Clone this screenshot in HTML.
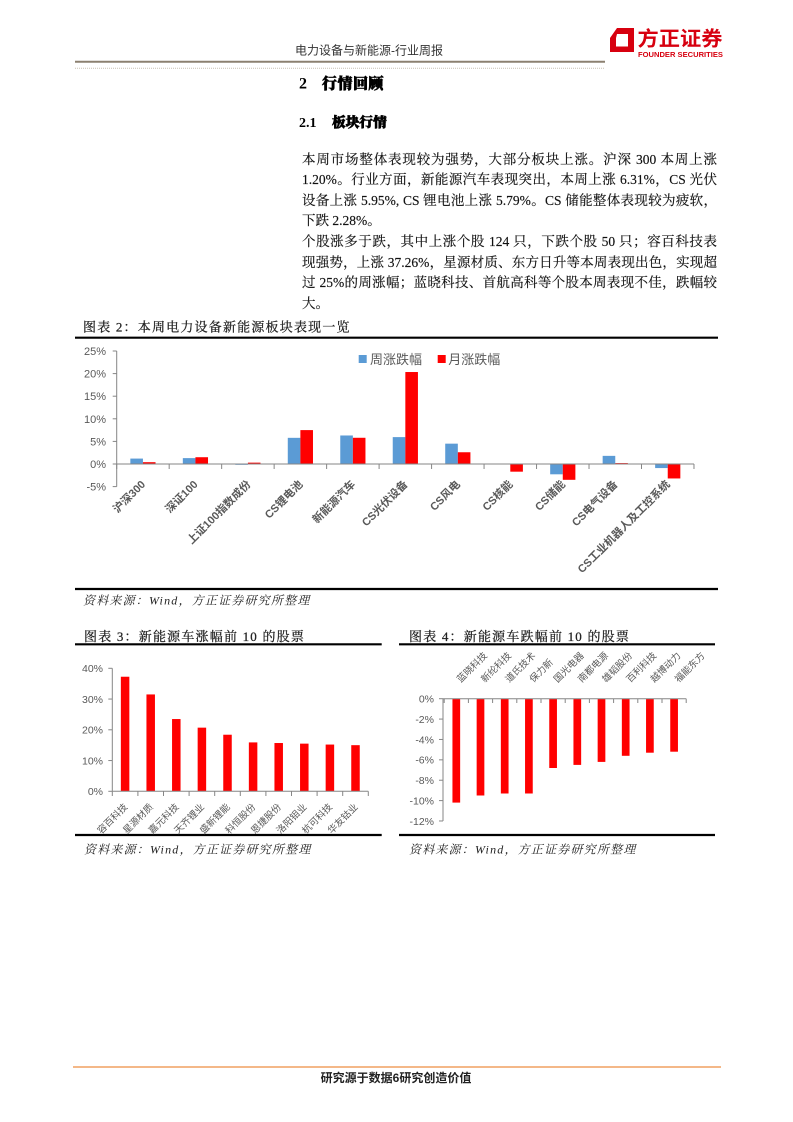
<!DOCTYPE html>
<html><head><meta charset="utf-8">
<style>
html,body{margin:0;padding:0;background:#fff;}
body{width:793px;height:1122px;position:relative;overflow:hidden;}
svg{position:absolute;left:0;top:0;}
.para{position:absolute;left:302px;top:149.7px;width:415px;font-family:"Liberation Serif","Noto Serif CJK SC",serif;font-size:13.5px;line-height:20.6px;color:#111;-webkit-text-stroke:0.15px #111;}
.para div{height:20.6px;}
.j{text-align:justify;text-align-last:justify;}
</style></head>
<body>
<svg width="793" height="1122" viewBox="0 0 793 1122" xmlns="http://www.w3.org/2000/svg">
<!-- Header -->
<text x="295" y="54.5" font-family="Liberation Sans,Noto Sans CJK SC,sans-serif" font-size="12" fill="#333">电力设备与新能源-行业周报</text>
<line x1="75" y1="61.7" x2="605" y2="61.7" stroke="#8c8070" stroke-width="2"/>
<line x1="75" y1="68.3" x2="605" y2="68.3" stroke="#c9c0b2" stroke-width="1" stroke-dasharray="1,1"/>
<!-- logo -->
<path fill-rule="evenodd" fill="#d7000f" d="M617,28 L634,28 L634,52 L610,52 L610,38 Z M617,34 L628,34 L628,46.5 L616,46.5 L616,38 Z"/>
<text x="637.5" y="45.5" font-family="Liberation Sans,Noto Sans CJK SC,sans-serif" font-size="20" font-weight="bold" fill="#d7000f" textLength="85" lengthAdjust="spacingAndGlyphs">方正证券</text>
<text x="638" y="57" font-family="Liberation Sans,sans-serif" font-size="7.5" font-weight="bold" fill="#d7000f" textLength="85" lengthAdjust="spacingAndGlyphs">FOUNDER SECURITIES</text>
<!-- Headings -->
<text x="299" y="88.5" font-family="Liberation Serif,Noto Serif CJK SC,serif" font-size="16" font-weight="bold" fill="#000">2</text>
<text x="322" y="88.5" font-family="Liberation Serif,Noto Serif CJK SC,serif" font-size="15" font-weight="900" fill="#000" stroke="#000" stroke-width="0.7" letter-spacing="0.5">行情回顾</text>
<text x="299" y="127" font-family="Liberation Serif,Noto Serif CJK SC,serif" font-size="14" font-weight="bold" fill="#000">2.1</text>
<text x="332" y="127" font-family="Liberation Serif,Noto Serif CJK SC,serif" font-size="13.7" font-weight="900" fill="#000" stroke="#000" stroke-width="0.7">板块行情</text>

<!-- Chart 2 -->
<text x="83" y="331.5" font-family="Liberation Serif,Noto Serif CJK SC,serif" font-size="13" letter-spacing="1.2" fill="#222" stroke="#222" stroke-width="0.25">图表 2：本周电力设备新能源板块表现一览</text>
<line x1="75" y1="337.7" x2="718" y2="337.7" stroke="#000" stroke-width="2.2"/>
<line x1="75" y1="589" x2="718" y2="589" stroke="#000" stroke-width="2.2"/>
<text x="83" y="604.5" font-family="Liberation Serif,Noto Serif CJK SC,serif" font-size="12" font-style="italic" letter-spacing="1.2" fill="#222">资料来源：Wind，方正证券研究所整理</text>

<g font-family="Liberation Sans,Noto Sans CJK SC,sans-serif" font-size="11" fill="#595959" text-anchor="end">
<text x="106" y="355">25%</text>
<text x="106" y="377.6">20%</text>
<text x="106" y="400.2">15%</text>
<text x="106" y="422.8">10%</text>
<text x="106" y="445.4">5%</text>
<text x="106" y="468">0%</text>
<text x="106" y="490.6">-5%</text>
</g>
<g stroke="#868686" stroke-width="1">
<line x1="116.7" y1="351" x2="116.7" y2="486.6"/>
<line x1="112.7" y1="351" x2="116.7" y2="351"/>
<line x1="112.7" y1="373.6" x2="116.7" y2="373.6"/>
<line x1="112.7" y1="396.2" x2="116.7" y2="396.2"/>
<line x1="112.7" y1="418.8" x2="116.7" y2="418.8"/>
<line x1="112.7" y1="441.4" x2="116.7" y2="441.4"/>
<line x1="112.7" y1="464" x2="116.7" y2="464"/>
<line x1="112.7" y1="486.6" x2="116.7" y2="486.6"/>
</g>
<g fill="#5B9BD5">
<rect x="130.34" y="458.58" width="12.6" height="5.42"/>
<rect x="182.82" y="458.12" width="12.6" height="5.88"/>
<rect x="235.3" y="464" width="12.6" height="0.8"/>
<rect x="287.78" y="437.83" width="12.6" height="26.17"/>
<rect x="340.26" y="435.48" width="12.6" height="28.52"/>
<rect x="392.74" y="437.11" width="12.6" height="26.89"/>
<rect x="445.22" y="443.66" width="12.6" height="20.34"/>
<rect x="550.18" y="464" width="12.6" height="10.31"/>
<rect x="602.66" y="455.86" width="12.6" height="8.14"/>
<rect x="655.14" y="464" width="12.6" height="4.07"/>
</g>
<g fill="#FF0000">
<rect x="142.94" y="462.19" width="12.6" height="1.81"/>
<rect x="195.42" y="457.22" width="12.6" height="6.78"/>
<rect x="247.9" y="462.64" width="12.6" height="1.36"/>
<rect x="300.38" y="430.1" width="12.6" height="33.9"/>
<rect x="352.86" y="437.78" width="12.6" height="26.22"/>
<rect x="405.34" y="372.02" width="12.6" height="91.98"/>
<rect x="457.82" y="452.25" width="12.6" height="11.75"/>
<rect x="510.3" y="464" width="12.6" height="7.68"/>
<rect x="562.78" y="464" width="12.6" height="15.82"/>
<rect x="615.26" y="463.1" width="12.6" height="0.9"/>
<rect x="667.74" y="464" width="12.6" height="14.46"/>
</g>
<g stroke="#868686" stroke-width="1">
<line x1="116.7" y1="464" x2="694" y2="464"/>
<line x1="116.7" y1="464" x2="116.7" y2="469"/>
<line x1="169.18" y1="464" x2="169.18" y2="469"/>
<line x1="221.66" y1="464" x2="221.66" y2="469"/>
<line x1="274.14" y1="464" x2="274.14" y2="469"/>
<line x1="326.62" y1="464" x2="326.62" y2="469"/>
<line x1="379.1" y1="464" x2="379.1" y2="469"/>
<line x1="431.58" y1="464" x2="431.58" y2="469"/>
<line x1="484.06" y1="464" x2="484.06" y2="469"/>
<line x1="536.54" y1="464" x2="536.54" y2="469"/>
<line x1="589.02" y1="464" x2="589.02" y2="469"/>
<line x1="641.5" y1="464" x2="641.5" y2="469"/>
<line x1="693.98" y1="464" x2="693.98" y2="469"/>
</g>
<g font-family="Liberation Sans,Noto Sans CJK SC,sans-serif" font-size="11" font-weight="bold" fill="#595959" text-anchor="end">
<text transform="translate(146,485) rotate(-45)">沪深300</text>
<text transform="translate(198.4,485) rotate(-45)">深证100</text>
<text transform="translate(251.4,485) rotate(-45)">上证100指数成份</text>
<text transform="translate(303.4,485) rotate(-45)">CS锂电池</text>
<text transform="translate(355.9,485) rotate(-45)">新能源汽车</text>
<text transform="translate(408.3,485) rotate(-45)">CS光伏设备</text>
<text transform="translate(460.8,485) rotate(-45)">CS风电</text>
<text transform="translate(513.3,485) rotate(-45)">CS核能</text>
<text transform="translate(565.8,485) rotate(-45)">CS储能</text>
<text transform="translate(618.3,485) rotate(-45)">CS电气设备</text>
<text transform="translate(670.7,485) rotate(-45)">CS工业机器人及工控系统</text>
</g>
<!-- legend -->
<rect x="358.7" y="355" width="8" height="8" fill="#5B9BD5"/>
<text x="370" y="364" font-family="Liberation Sans,Noto Sans CJK SC,sans-serif" font-size="13" fill="#595959">周涨跌幅</text>
<rect x="437.7" y="355" width="8" height="8" fill="#FF0000"/>
<text x="448.3" y="364" font-family="Liberation Sans,Noto Sans CJK SC,sans-serif" font-size="13" fill="#595959">月涨跌幅</text>

<!-- Chart 3 -->
<text x="84" y="641" font-family="Liberation Serif,Noto Serif CJK SC,serif" font-size="13" letter-spacing="1.2" fill="#222" stroke="#222" stroke-width="0.25">图表 3：新能源车涨幅前 10 的股票</text>
<line x1="75" y1="644.3" x2="381.7" y2="644.3" stroke="#000" stroke-width="2.2"/>
<line x1="75" y1="835" x2="381.7" y2="835" stroke="#000" stroke-width="2.2"/>
<text x="84" y="853.5" font-family="Liberation Serif,Noto Serif CJK SC,serif" font-size="12" font-style="italic" letter-spacing="1.2" fill="#222">资料来源：Wind，方正证券研究所整理</text>
<g font-family="Liberation Sans,Noto Sans CJK SC,sans-serif" font-size="10.5" fill="#595959" text-anchor="end">
<text x="103" y="672.1">40%</text>
<text x="103" y="702.85">30%</text>
<text x="103" y="733.6">20%</text>
<text x="103" y="764.35">10%</text>
<text x="103" y="795.1">0%</text>
</g>
<g fill="#FF0000">
<rect x="120.85" y="676.73" width="8.5" height="114.57"/>
<rect x="146.45" y="694.44" width="8.5" height="96.86"/>
<rect x="172.05" y="719.04" width="8.5" height="72.26"/>
<rect x="197.65" y="727.65" width="8.5" height="63.65"/>
<rect x="223.25" y="734.72" width="8.5" height="56.58"/>
<rect x="248.85" y="742.41" width="8.5" height="48.89"/>
<rect x="274.45" y="743.02" width="8.5" height="48.28"/>
<rect x="300.05" y="743.64" width="8.5" height="47.66"/>
<rect x="325.65" y="744.56" width="8.5" height="46.74"/>
<rect x="351.25" y="745.17" width="8.5" height="46.13"/>
</g>
<g stroke="#868686" stroke-width="1">
<line x1="112.3" y1="668.3" x2="112.3" y2="791.3"/>
<line x1="108.3" y1="668.3" x2="112.3" y2="668.3"/>
<line x1="108.3" y1="699.05" x2="112.3" y2="699.05"/>
<line x1="108.3" y1="729.8" x2="112.3" y2="729.8"/>
<line x1="108.3" y1="760.55" x2="112.3" y2="760.55"/>
<line x1="108.3" y1="791.3" x2="112.3" y2="791.3"/>
<line x1="112.3" y1="791.3" x2="368.3" y2="791.3"/>
<line x1="112.3" y1="791.3" x2="112.3" y2="796"/>
<line x1="137.9" y1="791.3" x2="137.9" y2="796"/>
<line x1="163.5" y1="791.3" x2="163.5" y2="796"/>
<line x1="189.1" y1="791.3" x2="189.1" y2="796"/>
<line x1="214.7" y1="791.3" x2="214.7" y2="796"/>
<line x1="240.3" y1="791.3" x2="240.3" y2="796"/>
<line x1="265.9" y1="791.3" x2="265.9" y2="796"/>
<line x1="291.5" y1="791.3" x2="291.5" y2="796"/>
<line x1="317.1" y1="791.3" x2="317.1" y2="796"/>
<line x1="342.7" y1="791.3" x2="342.7" y2="796"/>
<line x1="368.3" y1="791.3" x2="368.3" y2="796"/>
</g>
<g font-family="Liberation Sans,Noto Sans CJK SC,sans-serif" font-size="9.5" fill="#595959" text-anchor="end">
<text transform="translate(128.1,807.5) rotate(-45)">容百科技</text>
<text transform="translate(153.7,807.5) rotate(-45)">星源材质</text>
<text transform="translate(179.3,807.5) rotate(-45)">嘉元科技</text>
<text transform="translate(204.9,807.5) rotate(-45)">天齐锂业</text>
<text transform="translate(230.5,807.5) rotate(-45)">盛新锂能</text>
<text transform="translate(256.1,807.5) rotate(-45)">科恒股份</text>
<text transform="translate(281.7,807.5) rotate(-45)">恩捷股份</text>
<text transform="translate(307.3,807.5) rotate(-45)">洛阳钼业</text>
<text transform="translate(332.9,807.5) rotate(-45)">杭可科技</text>
<text transform="translate(358.5,807.5) rotate(-45)">华友钴业</text>
</g>

<!-- Chart 4 -->
<text x="409" y="641" font-family="Liberation Serif,Noto Serif CJK SC,serif" font-size="13" letter-spacing="1.2" fill="#222" stroke="#222" stroke-width="0.25">图表 4：新能源车跌幅前 10 的股票</text>
<line x1="399" y1="644.3" x2="715" y2="644.3" stroke="#000" stroke-width="2.2"/>
<line x1="399" y1="835" x2="715" y2="835" stroke="#000" stroke-width="2.2"/>
<text x="409" y="853.5" font-family="Liberation Serif,Noto Serif CJK SC,serif" font-size="12" font-style="italic" letter-spacing="1.2" fill="#222">资料来源：Wind，方正证券研究所整理</text>
<g font-family="Liberation Sans,Noto Sans CJK SC,sans-serif" font-size="10.5" fill="#595959" text-anchor="end">
<text x="434" y="702.5">0%</text>
<text x="434" y="722.9">-2%</text>
<text x="434" y="743.3">-4%</text>
<text x="434" y="763.6">-6%</text>
<text x="434" y="784">-8%</text>
<text x="434" y="804.4">-10%</text>
<text x="434" y="824.8">-12%</text>
</g>
<g fill="#FF0000">
<rect x="452.45" y="698.7" width="7.7" height="103.9"/>
<rect x="476.65" y="698.7" width="7.7" height="96.8"/>
<rect x="500.85" y="698.7" width="7.7" height="94.8"/>
<rect x="525.05" y="698.7" width="7.7" height="94.8"/>
<rect x="549.25" y="698.7" width="7.7" height="69.3"/>
<rect x="573.45" y="698.7" width="7.7" height="66.2"/>
<rect x="597.65" y="698.7" width="7.7" height="63.2"/>
<rect x="621.85" y="698.7" width="7.7" height="57.1"/>
<rect x="646.05" y="698.7" width="7.7" height="54.0"/>
<rect x="670.25" y="698.7" width="7.7" height="53.0"/>
</g>
<g stroke="#868686" stroke-width="1">
<line x1="443" y1="698.7" x2="443" y2="821"/>
<line x1="439" y1="698.7" x2="443" y2="698.7"/>
<line x1="439" y1="719.08" x2="443" y2="719.08"/>
<line x1="439" y1="739.46" x2="443" y2="739.46"/>
<line x1="439" y1="759.84" x2="443" y2="759.84"/>
<line x1="439" y1="780.22" x2="443" y2="780.22"/>
<line x1="439" y1="800.6" x2="443" y2="800.6"/>
<line x1="439" y1="820.98" x2="443" y2="820.98"/>
<line x1="443" y1="698.7" x2="686.2" y2="698.7"/>
<line x1="444.2" y1="698.7" x2="444.2" y2="703"/>
<line x1="468.4" y1="698.7" x2="468.4" y2="703"/>
<line x1="492.6" y1="698.7" x2="492.6" y2="703"/>
<line x1="516.8" y1="698.7" x2="516.8" y2="703"/>
<line x1="541" y1="698.7" x2="541" y2="703"/>
<line x1="565.2" y1="698.7" x2="565.2" y2="703"/>
<line x1="589.4" y1="698.7" x2="589.4" y2="703"/>
<line x1="613.6" y1="698.7" x2="613.6" y2="703"/>
<line x1="637.8" y1="698.7" x2="637.8" y2="703"/>
<line x1="662" y1="698.7" x2="662" y2="703"/>
<line x1="686.2" y1="698.7" x2="686.2" y2="703"/>
</g>
<g font-family="Liberation Sans,Noto Sans CJK SC,sans-serif" font-size="9.5" fill="#595959">
<text transform="translate(460.8,683) rotate(-45)">蓝晓科技</text>
<text transform="translate(485,683) rotate(-45)">新纶科技</text>
<text transform="translate(509.2,683) rotate(-45)">道氏技术</text>
<text transform="translate(533.4,683) rotate(-45)">保力新</text>
<text transform="translate(557.6,683) rotate(-45)">国光电器</text>
<text transform="translate(581.8,683) rotate(-45)">南都电源</text>
<text transform="translate(606,683) rotate(-45)">雄韬股份</text>
<text transform="translate(630.2,683) rotate(-45)">百利科技</text>
<text transform="translate(654.4,683) rotate(-45)">越博动力</text>
<text transform="translate(678.6,683) rotate(-45)">福能东方</text>
</g>

<!-- Footer -->
<line x1="73" y1="1067" x2="721" y2="1067" stroke="#f0a060" stroke-width="1.5"/>
<text x="396" y="1082" text-anchor="middle" font-family="Liberation Sans,Noto Sans CJK SC,sans-serif" font-size="12" font-weight="bold" fill="#222">研究源于数据6研究创造价值</text>
</svg>

<div class="para">
<div class="j">本周市场整体表现较为强势，大部分板块上涨。沪深 300 本周上涨</div>
<div class="j">1.20%。行业方面，新能源汽车表现突出，本周上涨 6.31%，CS 光伏</div>
<div class="j">设备上涨 5.95%, CS 锂电池上涨 5.79%。CS 储能整体表现较为疲软，</div>
<div>下跌 2.28%。</div>
<div class="j">个股涨多于跌，其中上涨个股 124 只，下跌个股 50 只；容百科技表</div>
<div class="j">现强势，上涨 37.26%，星源材质、东方日升等本周表现出色，实现超</div>
<div class="j">过 25%的周涨幅；蓝晓科技、首航高科等个股本周表现不佳，跌幅较</div>
<div>大。</div>
</div>
</body></html>
